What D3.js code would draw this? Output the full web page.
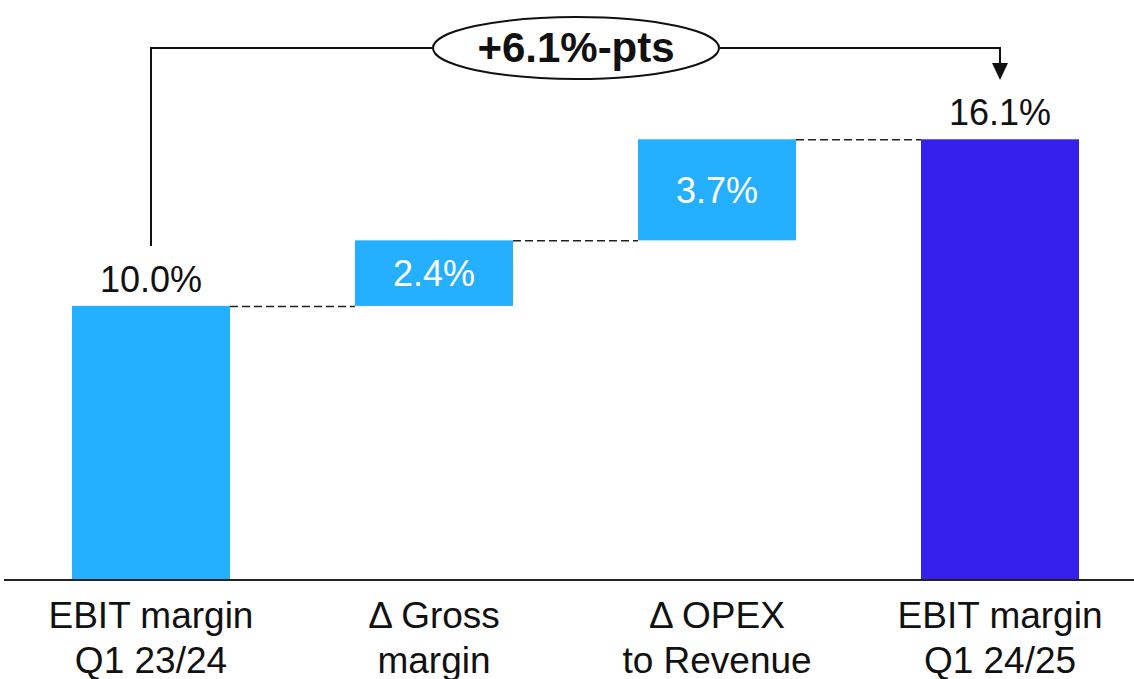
<!DOCTYPE html>
<html>
<head>
<meta charset="utf-8">
<script src="https://cdn.jsdelivr.net/npm/d3@7"></script>
<style>
  body { margin: 0; background: #fff; }
  svg { display: block; font-family: Arial, "Liberation Sans", sans-serif; }
</style>
</head>
<body>
<div id="chart"></div>
<script>
// chart values
var categories = ['EBIT margin|Q1 23/24', '\u0394 Gross|margin', '\u0394 OPEX|to Revenue', 'EBIT margin|Q1 24/25'];
var values = [10.0, 2.4, 3.7, 16.1];
var kinds = ['total', 'delta', 'delta', 'total'];
var labels = ['10.0%', '2.4%', '3.7%', '16.1%'];
var bridgeLabel = '+6.1%-pts';

var width = 1134, height = 679;
var lightBlue = '#25AFFF', darkBlue = '#3620EE';

var svg = d3.select('#chart').append('svg')
  .attr('width', width)
  .attr('height', height);

var x = d3.scaleBand()
  .domain(categories)
  .range([9.5, 1141.5])
  .paddingInner(0.4417)
  .paddingOuter(0.2208);

var y = d3.scaleLinear()
  .domain([0, 21.2])
  .range([579, 0]);

// build waterfall steps
var running = 0;
var steps = values.map(function(v, i){
  var s;
  if(kinds[i] === 'total'){
    s = { cat: categories[i], y0: 0, y1: v, label: labels[i], kind: kinds[i], idx: i };
    running = v;
  }else{
    s = { cat: categories[i], y0: running, y1: running + v, label: labels[i], kind: kinds[i], idx: i };
    running += v;
  }
  return s;
});

// dashed connectors
svg.selectAll('line.conn')
  .data(steps.slice(0, -1))
  .enter()
  .append('line')
  .attr('class', 'conn')
  .attr('x1', function(d){ return x(d.cat) + x.bandwidth() })
  .attr('x2', function(d, i){ return x(steps[i + 1].cat) })
  .attr('y1', function(d){ return y(d.y1) + 0.5 })
  .attr('y2', function(d){ return y(d.y1) + 0.5 })
  .attr('stroke', '#222')
  .attr('stroke-width', 1.5)
  .attr('stroke-dasharray', '8,4');

// bars
svg.selectAll('rect.bar')
  .data(steps)
  .enter()
  .append('rect')
  .attr('class', 'bar')
  .attr('x', function(d){ return x(d.cat) })
  .attr('y', function(d){ return y(d.y1) })
  .attr('width', x.bandwidth())
  .attr('height', function(d){ return y(d.y0) - y(d.y1) })
  .attr('fill', function(d){ return d.idx === steps.length - 1 ? darkBlue : lightBlue });

// baseline
svg.append('line')
  .attr('x1', 4).attr('x2', width)
  .attr('y1', y(0) + 1).attr('y2', y(0) + 1)
  .attr('stroke', '#222')
  .attr('stroke-width', 2);

// value labels
svg.selectAll('text.val')
  .data(steps)
  .enter()
  .append('text')
  .attr('class', 'val')
  .attr('x', function(d){ return x(d.cat) + x.bandwidth() / 2 })
  .attr('y', function(d){
    return d.kind === 'total' ? y(d.y1) - 14 : (y(d.y0) + y(d.y1)) / 2 + 13;
  })
  .attr('text-anchor', 'middle')
  .attr('font-size', 36)
  .attr('fill', function(d){ return d.kind === 'total' ? '#111' : '#fff' })
  .text(function(d){ return d.label });

// category labels
var cat = svg.selectAll('text.cat')
  .data(categories)
  .enter()
  .append('text')
  .attr('class', 'cat')
  .attr('x', function(d){ return x(d) + x.bandwidth() / 2 })
  .attr('y', 628)
  .attr('text-anchor', 'middle')
  .attr('font-size', 37)
  .attr('fill', '#111');

cat.selectAll('tspan')
  .data(function(d){ return d.split('|') })
  .enter()
  .append('tspan')
  .attr('x', function(){ return this.parentNode.getAttribute('x') })
  .attr('dy', function(d, i){ return i === 0 ? 0 : 45 })
  .text(function(d){ return d });

// bridge annotation
var first = steps[0], last = steps[steps.length - 1];
var xa = x(first.cat) + x.bandwidth() / 2;
var xb = x(last.cat) + x.bandwidth() / 2;
var yTop = 48;
var cx = 576, rx = 143, ry = 31;

svg.append('path')
  .attr('d', 'M' + xa + ',' + (y(first.y1) - 60) + 'V' + yTop + 'H' + (cx - rx))
  .attr('fill', 'none')
  .attr('stroke', '#111')
  .attr('stroke-width', 2);

svg.append('path')
  .attr('d', 'M' + (cx + rx) + ',' + yTop + 'H' + xb + 'V' + 66)
  .attr('fill', 'none')
  .attr('stroke', '#111')
  .attr('stroke-width', 2);

svg.append('path')
  .attr('d', 'M' + (xb - 8) + ',63L' + (xb + 8) + ',63L' + xb + ',80Z')
  .attr('fill', '#111');

svg.append('ellipse')
  .attr('cx', cx).attr('cy', yTop)
  .attr('rx', rx).attr('ry', ry)
  .attr('fill', '#fff')
  .attr('stroke', '#111')
  .attr('stroke-width', 2);

svg.append('text')
  .attr('x', cx)
  .attr('y', yTop + 14)
  .attr('text-anchor', 'middle')
  .attr('font-size', 42)
  .attr('font-weight', 'bold')
  .attr('fill', '#111')
  .text(bridgeLabel);
</script>
</body>
</html>
